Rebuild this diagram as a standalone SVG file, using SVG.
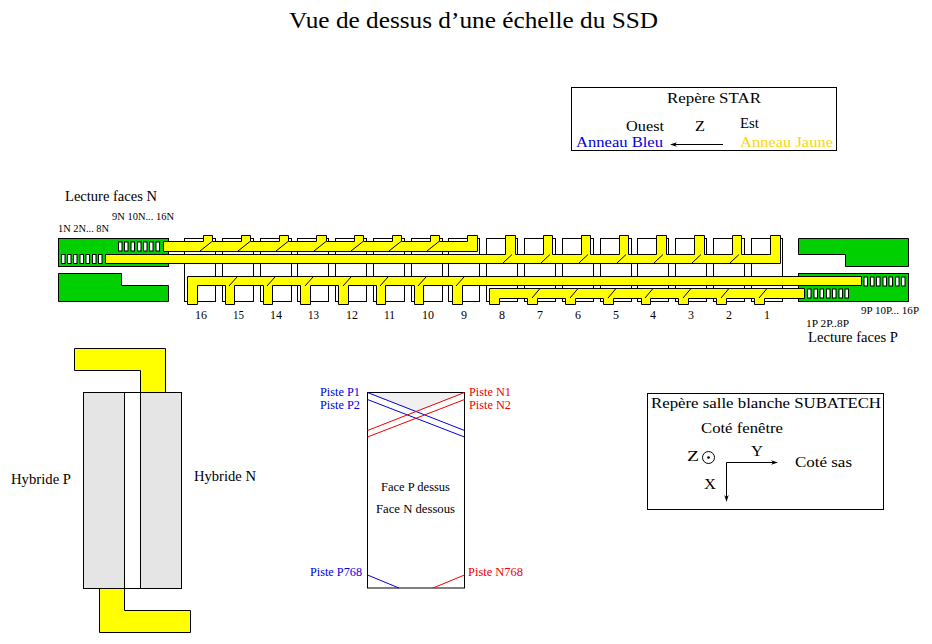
<svg xmlns="http://www.w3.org/2000/svg" xmlns:xlink="http://www.w3.org/1999/xlink" width="932" height="644" viewBox="0 0 932 644">
<style>
text{font-family:"Liberation Serif","Times New Roman",serif;fill:#000}
.t10{font-size:10.500px}.t11{font-size:11.500px}.t12{font-size:12px}.t14{font-size:15px}
.s{fill:none;stroke:#000;stroke-width:1}
.g{fill:#00d000;stroke:#000;stroke-width:1}
.y{fill:#ffff00;stroke:#000;stroke-width:1}
.w{fill:#fff;stroke:#000;stroke-width:1}
.l{stroke:#000;stroke-width:1;fill:none}
.b{stroke:#0000e0;stroke-width:1;fill:none}
.r{stroke:#f00000;stroke-width:1;fill:none}
.blue{fill:#0000e0}.red{fill:#f00000}.gold{fill:#ffd700}
</style>
<defs>
<rect id="frame" class="s" width="31" height="63"/>
<rect id="slot" class="w" width="3.500" height="9"/>
<path id="arrowL" d="M0 0l7-2.200-2 2.200 2 2.200z" fill="#000"/>
</defs>
<rect width="932" height="644" fill="#fff"/>
<text x="289" y="28" font-size="24" textLength="369" lengthAdjust="spacingAndGlyphs">Vue de dessus d’une échelle du SSD</text>

<g id="star-frame">
<rect class="s" x="571.500" y="87.500" width="265" height="63"/>
<text x="667" y="103" class="t14" textLength="94" lengthAdjust="spacingAndGlyphs">Repère STAR</text>
<text x="626" y="131" class="t14" textLength="38" lengthAdjust="spacingAndGlyphs">Ouest</text>
<text x="695" y="131" class="t14" textLength="10" lengthAdjust="spacingAndGlyphs">Z</text>
<text x="740" y="128" class="t14" textLength="19" lengthAdjust="spacingAndGlyphs">Est</text>
<text x="576" y="147" class="t14 blue" textLength="87" lengthAdjust="spacingAndGlyphs">Anneau Bleu</text>
<text x="740" y="147" class="t14 gold" textLength="93" lengthAdjust="spacingAndGlyphs">Anneau Jaune</text>
<path class="l" d="M723 144.500H672"/>
<use xlink:href="#arrowL" x="670" y="144.500"/>
</g>

<g id="ladder-frames">
<use xlink:href="#frame" x="184.500" y="238.500"/><use xlink:href="#frame" x="222.500" y="238.500"/><use xlink:href="#frame" x="260.500" y="238.500"/><use xlink:href="#frame" x="297.500" y="238.500"/>
<use xlink:href="#frame" x="335.500" y="238.500"/><use xlink:href="#frame" x="373.500" y="238.500"/><use xlink:href="#frame" x="411.500" y="238.500"/><use xlink:href="#frame" x="448.500" y="238.500"/>
<use xlink:href="#frame" x="486.500" y="238.500"/><use xlink:href="#frame" x="524.500" y="238.500"/><use xlink:href="#frame" x="562.500" y="238.500"/><use xlink:href="#frame" x="600.500" y="238.500"/>
<use xlink:href="#frame" x="637.500" y="238.500"/><use xlink:href="#frame" x="675.500" y="238.500"/><use xlink:href="#frame" x="713.500" y="238.500"/><use xlink:href="#frame" x="751.500" y="238.500"/>
</g>

<g id="green-left">
<rect class="g" x="58.500" y="238.500" width="110" height="28"/>
<path class="g" d="M58.500 273.500H121.500V285.500H168.500V301.500H58.500Z"/>
<g id="slots-left">
<use xlink:href="#slot" x="61.500" y="254.500"/><use xlink:href="#slot" x="67.500" y="254.500"/><use xlink:href="#slot" x="73.500" y="254.500"/><use xlink:href="#slot" x="80" y="254.500"/><use xlink:href="#slot" x="86" y="254.500"/><use xlink:href="#slot" x="92.500" y="254.500"/><use xlink:href="#slot" x="98.500" y="254.500"/>
<use xlink:href="#slot" x="118.500" y="242"/><use xlink:href="#slot" x="124.500" y="242"/><use xlink:href="#slot" x="131" y="242"/><use xlink:href="#slot" x="137.500" y="242"/><use xlink:href="#slot" x="143.500" y="242"/><use xlink:href="#slot" x="149.500" y="242"/><use xlink:href="#slot" x="156" y="242"/>
</g>
</g>

<g id="green-right">
<path class="g" d="M798.500 238.500H908.500V266.500H845.500V254.500H798.500Z"/>
<rect class="g" x="798.500" y="273.500" width="110" height="28"/>
<g id="slots-right">
<use xlink:href="#slot" x="864" y="277"/><use xlink:href="#slot" x="870.500" y="277"/><use xlink:href="#slot" x="876.500" y="277"/><use xlink:href="#slot" x="883" y="277"/><use xlink:href="#slot" x="889" y="277"/><use xlink:href="#slot" x="895.500" y="277"/><use xlink:href="#slot" x="901.500" y="277"/>
<use xlink:href="#slot" x="807.500" y="289"/><use xlink:href="#slot" x="814" y="289"/><use xlink:href="#slot" x="820" y="289"/><use xlink:href="#slot" x="826.500" y="289"/><use xlink:href="#slot" x="832.500" y="289"/><use xlink:href="#slot" x="839" y="289"/><use xlink:href="#slot" x="845" y="289"/>
</g>
</g>

<g id="yellow-bars">
<path class="y" d="M163.500 241.500H203.500V235.500H212.500V241.500H241.500V235.500H250.500V241.500H279.500V235.500H288.500V241.500H316.500V235.500H326.500V241.500H354.500V235.500H363.500V241.500H392.500V235.500H401.500V241.500H430.500V235.500H439.500V241.500H467.500V235.500H477.500V251.500H163.500Z"/>
<path class="y" d="M105.500 254.500H505.500V235.500H515.500V254.500H543.500V235.500H552.500V254.500H581.500V235.500H590.500V254.500H619.500V235.500H628.500V254.500H656.500V235.500H666.500V254.500H694.500V235.500H704.500V254.500H732.500V235.500H741.500V254.500H770.500V235.500H780.500V263.500H105.500Z"/>
<path class="y" d="M187.500 276.500H861.500V285.500H462.500V304.500H452.500V285.500H423.500V304.500H414.500V285.500H385.500V304.500H376.500V285.500H348.500V304.500H338.500V285.500H310.500V304.500H300.500V285.500H272.500V304.500H263.500V285.500H234.500V304.500H225.500V285.500H197.500V304.500H187.500Z"/>
<path class="y" d="M489.500 288.500H804.500V298.500H764.500V304.500H754.500V298.500H726.500V304.500H716.500V298.500H688.500V304.500H678.500V298.500H650.500V304.500H641.500V298.500H613.500V304.500H603.500V298.500H575.500V304.500H565.500V298.500H537.500V304.500H527.500V298.500H499.500V304.500H489.500Z"/>
</g>
<g id="bar-ticks">
<path class="l" d="M200 251l12-9.500M238 251l12-9.500M276 251l12-9.500M314 251l12-9.500M351 251l12-9.500M389 251l12-9.500M427 251l12-9.500"/>
<path class="l" d="M503 263l9-8.500M541 263l9-8.500M579 263l9-8.500M617 263l9-8.500M654 263l9-8.500M692 263l9-8.500M730 263l9-8.500"/>
<path class="l" d="M229 286l8-9M267 286l8-9M305 286l8-9M343 286l8-9M380 286l8-9M418 286l8-9M456 286l8-9"/>
<path class="l" d="M532 298l8-9.500M570 298l8-9.500M608 298l8-9.500M645 298l8-9.500M683 298l8-9.500M721 298l8-9.500M759 298l8-9.500"/>
</g>

<g id="labels-ladder">
<text x="195" y="319" class="t12" textLength="12" lengthAdjust="spacingAndGlyphs">16</text><text x="233" y="319" class="t12" textLength="11" lengthAdjust="spacingAndGlyphs">15</text><text x="270" y="319" class="t12" textLength="12" lengthAdjust="spacingAndGlyphs">14</text><text x="308" y="319" class="t12" textLength="11" lengthAdjust="spacingAndGlyphs">13</text>
<text x="346" y="319" class="t12" textLength="12" lengthAdjust="spacingAndGlyphs">12</text><text x="384" y="319" class="t12" textLength="11" lengthAdjust="spacingAndGlyphs">11</text><text x="422" y="319" class="t12" textLength="12" lengthAdjust="spacingAndGlyphs">10</text><text x="461" y="319" class="t12">9</text>
<text x="499" y="319" class="t12">8</text><text x="537" y="319" class="t12">7</text><text x="575" y="319" class="t12">6</text><text x="613" y="319" class="t12">5</text>
<text x="650" y="319" class="t12">4</text><text x="688" y="319" class="t12">3</text><text x="726" y="319" class="t12">2</text><text x="764" y="319" class="t12">1</text>
</g>

<text x="65" y="201" class="t14" textLength="92" lengthAdjust="spacingAndGlyphs">Lecture faces N</text>
<text x="112" y="220" class="t10" textLength="62" lengthAdjust="spacingAndGlyphs">9N 10N... 16N</text>
<text x="58" y="232" class="t10" textLength="51" lengthAdjust="spacingAndGlyphs">1N 2N... 8N</text>
<text x="861" y="314" class="t10" textLength="58" lengthAdjust="spacingAndGlyphs">9P 10P... 16P</text>
<text x="806" y="327" class="t10" textLength="43" lengthAdjust="spacingAndGlyphs">1P 2P..8P</text>
<text x="808" y="342" class="t14" textLength="90" lengthAdjust="spacingAndGlyphs">Lecture faces P</text>

<g id="hybride">
<path class="y" d="M74.500 348.500H165.500V392.500H140.500V370.500H74.500Z"/>
<path class="y" d="M99.500 588.500H124.500V610.500H190.500V632.500H99.500Z"/>
<rect x="83.500" y="392.500" width="98" height="196" fill="#e5e5e5" stroke="#000"/>
<rect class="w" x="124.500" y="392.500" width="16" height="196"/>
<text x="11" y="484" class="t14" textLength="60" lengthAdjust="spacingAndGlyphs">Hybride P</text>
<text x="194" y="481" class="t14" textLength="62" lengthAdjust="spacingAndGlyphs">Hybride N</text>
</g>

<g id="detecteur">
<path d="M367.500 392.500H464.500L416 412Z" fill="#f0f0f0"/>
<rect class="s" x="367.500" y="392.500" width="97" height="195.500"/>
<path class="b" d="M367.500 392.500L464.500 430.500M367.500 399.500L464.500 437M367.500 575L399 588"/>
<path class="r" d="M464.500 392.500L367.500 430.500M464.500 399.500L367.500 437M464.500 575L433 588"/>
<text x="320" y="396" class="t11 blue" textLength="40" lengthAdjust="spacingAndGlyphs">Piste P1</text>
<text x="320" y="409" class="t11 blue" textLength="40" lengthAdjust="spacingAndGlyphs">Piste P2</text>
<text x="469" y="396" class="t11 red" textLength="42" lengthAdjust="spacingAndGlyphs">Piste N1</text>
<text x="469" y="409" class="t11 red" textLength="42" lengthAdjust="spacingAndGlyphs">Piste N2</text>
<text x="310" y="576" class="t11 blue" textLength="52" lengthAdjust="spacingAndGlyphs">Piste P768</text>
<text x="468" y="576" class="t11 red" textLength="55" lengthAdjust="spacingAndGlyphs">Piste N768</text>
<text x="381" y="491" class="t11" textLength="69" lengthAdjust="spacingAndGlyphs">Face P dessus</text>
<text x="376" y="513" class="t11" textLength="79" lengthAdjust="spacingAndGlyphs">Face N dessous</text>
</g>

<g id="subatech-frame">
<rect class="s" x="647.500" y="393.500" width="236" height="116"/>
<text x="651" y="408" class="t14" textLength="230" lengthAdjust="spacingAndGlyphs">Repère salle blanche SUBATECH</text>
<text x="701" y="433" class="t14" textLength="82" lengthAdjust="spacingAndGlyphs">Coté fenêtre</text>
<text x="687" y="461" class="t14" textLength="12" lengthAdjust="spacingAndGlyphs">Z</text>
<circle class="s" cx="708.500" cy="457.500" r="6"/>
<circle cx="708.500" cy="457.500" r="1.300" fill="#000"/>
<text x="751" y="456" class="t14" textLength="12" lengthAdjust="spacingAndGlyphs">Y</text>
<text x="704" y="489" class="t14" textLength="12" lengthAdjust="spacingAndGlyphs">X</text>
<text x="795" y="467" class="t14" textLength="57" lengthAdjust="spacingAndGlyphs">Coté sas</text>
<path class="l" d="M776 462.500H726.500V500"/>
<path d="M778 462.500l-7-2.200 2 2.200-2 2.200zM726.500 502l-2.200-7 2.200 2 2.200-2z" fill="#000"/>
</g>
</svg>
